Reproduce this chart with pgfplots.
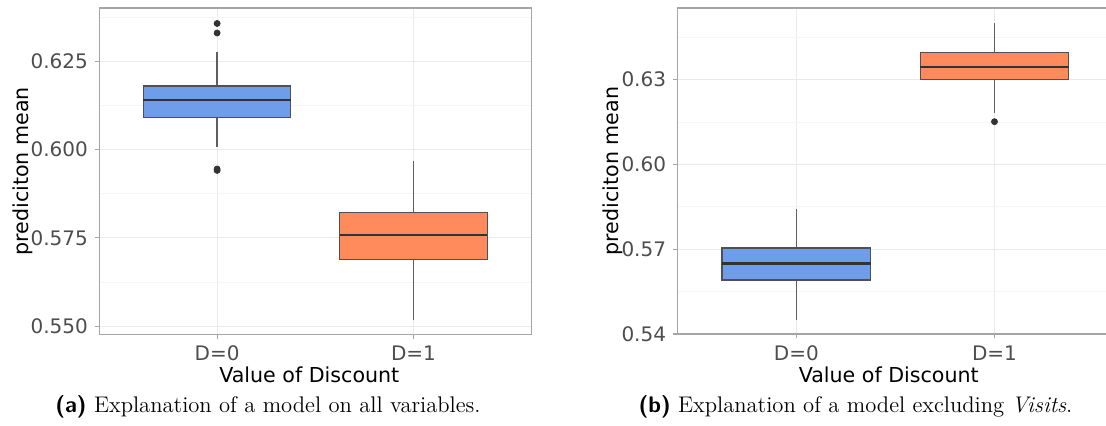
\documentclass[border=0pt]{standalone}
\usepackage{fontspec}
\usepackage{pgfplots}
\pgfplotsset{compat=1.18}
\usepgfplotslibrary{statistics}
\newfontfamily\plotfont{DejaVu Sans}

\definecolor{boxblue}{RGB}{111,157,234}
\definecolor{boxorange}{RGB}{255,138,92}
\definecolor{framegray}{RGB}{165,165,165}
\definecolor{gridmaj}{RGB}{234,234,234}
\definecolor{gridmin}{RGB}{245,245,245}
\definecolor{ticklab}{RGB}{77,77,77}
\definecolor{boxline}{RGB}{80,80,80}
\definecolor{whisk}{RGB}{95,95,95}

\pgfplotsset{
  ggpanel/.style={
    scale only axis, anchor=south west,
    height=163pt,
    xmin=0.4,
    xtick={1,2}, xticklabels={D=0,D=1},
    tick align=outside, xtick pos=bottom, ytick pos=left,
    major tick length=2.2pt, minor tick length=0pt,
    tick style={framegray, line width=0.6pt},
    axis line style={framegray, line width=0.8pt},
    xmajorgrids, ymajorgrids, yminorgrids,
    major grid style={gridmaj, line width=0.6pt},
    minor grid style={gridmin, line width=0.4pt},
    ticklabel style={font=\plotfont\fontsize{10}{12}\selectfont, text=ticklab},
    /pgf/number format/assume math mode=true,
    xlabel={Value of Discount},
    ylabel={prediciton mean},
    boxplot/draw direction=y,
    boxplot/box extend=0.75,
    boxplot/whisker extend=0,
    boxplot/every box/.style={draw=boxline, line width=0.6pt},
    boxplot/every whisker/.style={draw=whisk, line width=0.8pt},
    boxplot/every median/.style={draw=black!80, line width=1.2pt},
    clip=false,
  },
  outl/.style={mark=*, mark size=1.5pt, mark options={draw=black!80, fill=black!80}},
}

\begin{document}
\begin{tikzpicture}
\useasboundingbox (0,0) rectangle (553pt,212.5pt);

% (a) all variables
\begin{axis}[ggpanel,
    at={(49.65pt,45.35pt)}, width=216pt,
    xmax=2.6,
    ymin=0.5477, ymax=0.6400,
    ytick={0.550,0.575,0.600,0.625},
    yticklabels={0.550,0.575,0.600,0.625},
    minor ytick={0.5625,0.5875,0.6125,0.6375},
    every axis x label/.style={at={(rel axis cs:0.5,0)}, anchor=base, xshift=-3pt, yshift=-24pt,
      font=\plotfont\fontsize{10.3}{12}\selectfont},
    every axis y label/.style={at={(rel axis cs:0,0.5)}, xshift=-38pt, rotate=90, anchor=center,
      font=\plotfont\fontsize{10.3}{12}\selectfont},
]
\addplot[boxplot prepared={lower whisker=0.6008, lower quartile=0.6091, median=0.6140,
    upper quartile=0.6180, upper whisker=0.6275, draw position=1},
    fill=boxblue, draw=boxline, outl]
    table[row sep=\\, y index=0] {v\\ 0.6357\\ 0.6330\\ 0.5945\\ 0.5941\\};
\addplot[boxplot prepared={lower whisker=0.5517, lower quartile=0.5689, median=0.5758,
    upper quartile=0.5822, upper whisker=0.5968, draw position=2},
    fill=boxorange, draw=boxline, outl]
    coordinates {};
\end{axis}

% (b) excluding Visits
\begin{axis}[ggpanel,
    at={(338.75pt,45.5pt)}, width=214.25pt,
    xmax=2.563,
    ymin=0.5400, ymax=0.6553,
    ytick={0.54,0.57,0.60,0.63},
    yticklabels={0.54,0.57,0.60,0.63},
    minor ytick={0.555,0.585,0.615,0.645},
    axis line style={draw=none},
    every axis x label/.style={at={(rel axis cs:0.5,0)}, anchor=base, xshift=-1.5pt, yshift=-24pt,
      font=\plotfont\fontsize{10.3}{12}\selectfont},
    every axis y label/.style={at={(rel axis cs:0,0.5)}, xshift=-32.5pt, rotate=90, anchor=center,
      font=\plotfont\fontsize{10.3}{12}\selectfont},
]
\draw[framegray, line width=0.8pt] (rel axis cs:1,0) -- (rel axis cs:0,0) -- (rel axis cs:0,1) -- (rel axis cs:1,1);
\addplot[boxplot prepared={lower whisker=0.5450, lower quartile=0.5591, median=0.5650,
    upper quartile=0.5704, upper whisker=0.5842, draw position=1},
    fill=boxblue, draw=boxline, outl]
    coordinates {};
\addplot[boxplot prepared={lower whisker=0.6182, lower quartile=0.6299, median=0.6345,
    upper quartile=0.6397, upper whisker=0.6501, draw position=2},
    fill=boxorange, draw=boxline, outl]
    table[row sep=\\, y index=0] {v\\ 0.6151\\};
\end{axis}

\node[anchor=base, font=\fontsize{11.3}{13}\selectfont] at (134pt,6.5pt)
  {{\sffamily\bfseries (a)} Explanation of a model on all variables.};
\node[anchor=base, font=\fontsize{11.3}{13}\selectfont] at (427.75pt,6.5pt)
  {{\sffamily\bfseries (b)} Explanation of a model excluding \textit{Visits}.};
\end{tikzpicture}
\end{document}
